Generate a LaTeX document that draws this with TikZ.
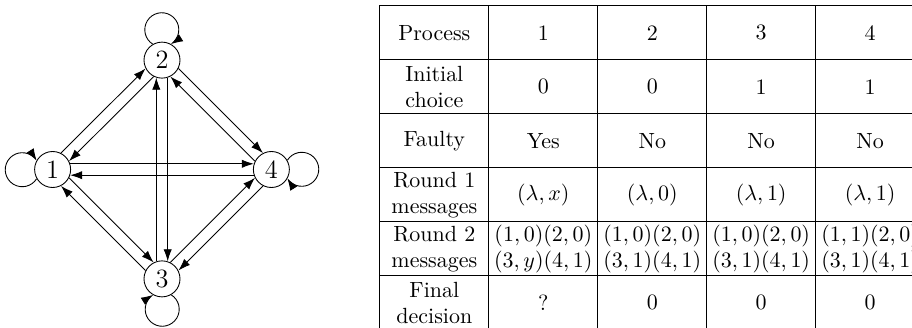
\documentclass[tikz,border=0pt]{standalone}
\usetikzlibrary{arrows.meta, matrix}

\begin{document}
\begin{tikzpicture}[thin,
    >={Latex[length=5.5pt, width=3.8pt]},
    proc/.style={draw, circle, minimum size=0.576cm, inner sep=0pt, font=\large},
    msg/.style={->},
    cell/.style={draw, anchor=center, text width=47pt, align=center,
                 inner xsep=1.3pt, inner ysep=0pt, minimum height=0.864cm}]

  \clip (0,0) rectangle (14.592, 5.232);

  %% ===== LEFT: FOUR PROCESSES, EVERY PAIR LINKED BOTH WAYS =====

  % Processes
  \node[proc] (p1) at (0.842, 2.52) {1};
  \node[proc] (p2) at (2.592, 4.27) {2};
  \node[proc] (p3) at (2.592, 0.77) {3};
  \node[proc] (p4) at (4.342, 2.52) {4};

  % Messages; each one runs a little to the left of the centre line
  \draw[msg] (p1.63)  -- (p2.207);
  \draw[msg] (p2.243) -- (p1.27);
  \draw[msg] (p1.18)  -- (p4.162);
  \draw[msg] (p4.198) -- (p1.342);
  \draw[msg] (p1.-27) -- (p3.117);
  \draw[msg] (p3.153) -- (p1.297);
  \draw[msg] (p2.-27) -- (p4.117);
  \draw[msg] (p4.153) -- (p2.297);
  \draw[msg] (p2.-72) -- (p3.72);
  \draw[msg] (p3.108) -- (p2.252);
  \draw[msg] (p3.63)  -- (p4.207);
  \draw[msg] (p4.243) -- (p3.27);

  % Messages to itself (clockwise loops)
  \draw[msg] (p2.120) arc[start angle=238, end angle=-58, radius=0.272];
  \draw[msg] (p1.210) arc[start angle=328, end angle=32, radius=0.272];
  \draw[msg] (p4.30)  arc[start angle=148, end angle=-148, radius=0.272];
  \draw[msg] (p3.300) arc[start angle=58, end angle=-238, radius=0.272];

  %% ===== RIGHT: TABLE OF THE TWO ROUNDS =====
  \matrix (rounds) [matrix of nodes, anchor=north west, inner sep=0pt,
                    nodes={cell}, column sep=-\pgflinewidth,
                    row sep=-\pgflinewidth] at (6.064, 5.152) {
    Process          & 1 & 2 & 3 & 4 \\
    Initial choice   & 0 & 0 & 1 & 1 \\
    Faulty           & Yes & No & No & No \\
    Round 1 messages & $(\lambda,x)$ & $(\lambda,0)$ & $(\lambda,1)$ & $(\lambda,1)$ \\
    Round 2 messages & $(1,0)(2,0)$ $(3,y)(4,1)$ & $(1,0)(2,0)$ $(3,1)(4,1)$
                     & $(1,0)(2,0)$ $(3,1)(4,1)$ & $(1,1)(2,0)$ $(3,1)(4,1)$ \\
    Final decision   & ? & 0 & 0 & 0 \\
  };

\end{tikzpicture}
\end{document}
